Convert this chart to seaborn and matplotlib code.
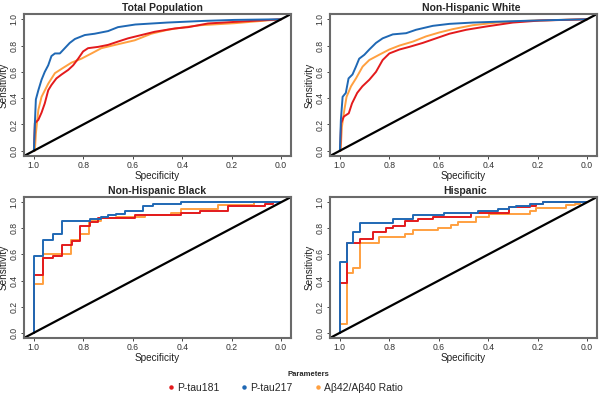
import matplotlib
matplotlib.use("Agg")
import matplotlib.pyplot as plt
import seaborn as sns
import pandas as pd
from matplotlib.lines import Line2D

sns.set_style("white")
plt.rcParams['font.family'] = ['Liberation Sans', 'DejaVu Sans']

series_names = ["P-tau181", "P-tau217", "A\u03b242/A\u03b240 Ratio"]
colors = ["#E31A1C", "#1F68B4", "#FFA040"]
panel_titles = ["Total Population", "Non-Hispanic White", "Non-Hispanic Black", "Hispanic"]

# ---- Total Population ----
tot_red_spec = [1.0, 0.996, 0.982, 0.969, 0.956, 0.942, 0.929, 0.909, 0.888, 0.861, 0.841, 0.821, 0.801, 0.781, 0.740, 0.700, 0.660, 0.619, 0.565, 0.511, 0.430, 0.376, 0.296, 0.188, 0.094, 0.0]
tot_red_sens = [0.0, 0.21, 0.235, 0.29, 0.36, 0.46, 0.50, 0.55, 0.58, 0.615, 0.65, 0.70, 0.755, 0.78, 0.79, 0.805, 0.83, 0.855, 0.88, 0.905, 0.93, 0.94, 0.968, 0.98, 0.99, 1.0]
tot_blue_spec = [1.0, 0.996, 0.992, 0.982, 0.969, 0.956, 0.942, 0.929, 0.915, 0.895, 0.875, 0.855, 0.834, 0.794, 0.754, 0.70, 0.66, 0.59, 0.46, 0.32, 0.19, 0.0]
tot_blue_sens = [0.0, 0.21, 0.39, 0.46, 0.54, 0.60, 0.65, 0.72, 0.74, 0.74, 0.78, 0.82, 0.85, 0.88, 0.89, 0.91, 0.94, 0.96, 0.975, 0.987, 0.995, 1.0]
tot_orange_spec = [1.0, 0.996, 0.992, 0.982, 0.969, 0.942, 0.915, 0.882, 0.848, 0.808, 0.767, 0.727, 0.660, 0.592, 0.525, 0.458, 0.390, 0.323, 0.188, 0.0]
tot_orange_sens = [0.0, 0.0, 0.13, 0.31, 0.41, 0.51, 0.59, 0.63, 0.67, 0.70, 0.74, 0.78, 0.81, 0.84, 0.89, 0.92, 0.94, 0.955, 0.97, 1.0]

# ---- Non-Hispanic White ----
nhw_red_spec = [1.0, 0.999, 0.995, 0.984, 0.964, 0.951, 0.930, 0.909, 0.881, 0.854, 0.827, 0.800, 0.759, 0.719, 0.665, 0.611, 0.557, 0.489, 0.408, 0.300, 0.192, 0.0]
nhw_red_sens = [0.0, 0.0, 0.21, 0.26, 0.285, 0.36, 0.44, 0.49, 0.54, 0.60, 0.69, 0.74, 0.77, 0.79, 0.82, 0.855, 0.89, 0.92, 0.945, 0.975, 0.99, 1.0]
nhw_blue_spec = [1.0, 0.996, 0.989, 0.976, 0.965, 0.949, 0.935, 0.922, 0.901, 0.881, 0.854, 0.827, 0.786, 0.732, 0.692, 0.624, 0.557, 0.462, 0.354, 0.219, 0.0]
nhw_blue_sens = [0.0, 0.235, 0.41, 0.44, 0.55, 0.58, 0.64, 0.70, 0.73, 0.77, 0.82, 0.855, 0.885, 0.894, 0.92, 0.95, 0.965, 0.975, 0.982, 0.99, 1.0]
nhw_orange_spec = [1.0, 0.997, 0.992, 0.982, 0.973, 0.955, 0.935, 0.908, 0.881, 0.841, 0.800, 0.759, 0.705, 0.651, 0.597, 0.543, 0.462, 0.354, 0.219, 0.0]
nhw_orange_sens = [0.0, 0.0, 0.18, 0.31, 0.41, 0.49, 0.55, 0.64, 0.69, 0.73, 0.77, 0.80, 0.83, 0.87, 0.90, 0.925, 0.955, 0.977, 0.99, 1.0]

# ---- Non-Hispanic Black (step curves, jump points) ----
nhb_red_spec = [1.0, 1.0, 0.962, 0.922, 0.886, 0.845, 0.814, 0.774, 0.740, 0.592, 0.404, 0.330, 0.215, 0.067, 0.034, 0.0]
nhb_red_sens = [0.0, 0.44, 0.57, 0.59, 0.67, 0.70, 0.815, 0.85, 0.88, 0.90, 0.92, 0.935, 0.97, 0.985, 1.0, 1.0]
nhb_blue_spec = [1.0, 1.0, 0.962, 0.922, 0.886, 0.774, 0.727, 0.700, 0.666, 0.633, 0.559, 0.518, 0.404, 0.0]
nhb_blue_sens = [0.0, 0.59, 0.71, 0.76, 0.855, 0.87, 0.89, 0.905, 0.91, 0.935, 0.97, 0.985, 1.0, 1.0]
nhb_orange_spec = [1.0, 1.0, 0.962, 0.848, 0.812, 0.778, 0.727, 0.666, 0.552, 0.444, 0.404, 0.256, 0.108, 0.0]
nhb_orange_sens = [0.0, 0.37, 0.60, 0.71, 0.76, 0.855, 0.88, 0.885, 0.90, 0.92, 0.95, 0.975, 1.0, 1.0]

# ---- Hispanic (step curves, jump points) ----
his_red_spec = [1.0, 1.0, 0.973, 0.919, 0.868, 0.814, 0.786, 0.735, 0.685, 0.624, 0.469, 0.314, 0.232, 0.205, 0.178, 0.0]
his_red_sens = [0.0, 0.385, 0.685, 0.715, 0.77, 0.80, 0.815, 0.855, 0.87, 0.885, 0.915, 0.96, 0.97, 0.985, 1.0, 1.0]
his_blue_spec = [1.0, 1.0, 0.973, 0.946, 0.919, 0.786, 0.705, 0.577, 0.442, 0.361, 0.314, 0.286, 0.232, 0.178, 0.0]
his_blue_sens = [0.0, 0.545, 0.685, 0.77, 0.84, 0.87, 0.90, 0.915, 0.93, 0.945, 0.96, 0.97, 0.985, 1.0, 1.0]
his_orange_spec = [1.0, 1.0, 0.973, 0.946, 0.919, 0.841, 0.735, 0.705, 0.604, 0.550, 0.523, 0.449, 0.395, 0.232, 0.205, 0.084, 0.050, 0.030, 0.0]
his_orange_sens = [0.0, 0.07, 0.455, 0.50, 0.685, 0.73, 0.76, 0.785, 0.80, 0.825, 0.85, 0.89, 0.91, 0.93, 0.955, 0.98, 0.99, 1.0, 1.0]

tick_vals = [1.0, 0.8, 0.6, 0.4, 0.2, 0.0]
tick_labels = ["1.0", "0.8", "0.6", "0.4", "0.2", "0.0"]

panels = [
    (panel_titles[0], [(tot_red_spec, tot_red_sens), (tot_blue_spec, tot_blue_sens), (tot_orange_spec, tot_orange_sens)], None, 0.519),
    (panel_titles[1], [(nhw_red_spec, nhw_red_sens), (nhw_blue_spec, nhw_blue_sens), (nhw_orange_spec, nhw_orange_sens)], None, 0.53),
    (panel_titles[2], [(nhb_red_spec, nhb_red_sens), (nhb_blue_spec, nhb_blue_sens), (nhb_orange_spec, nhb_orange_sens)], "steps-post", 0.5),
    (panel_titles[3], [(his_red_spec, his_red_sens), (his_blue_spec, his_blue_sens), (his_orange_spec, his_orange_sens)], "steps-post", 0.505),
]

fig = plt.figure(figsize=(6.0, 3.95), dpi=100)
W, H = 600.0, 395.0
boxes = [(24, 14, 291, 156), (330, 14, 597, 156), (24, 197, 291, 338), (330, 197, 597, 338)]

for (title, curves, ds, tx), (l, t, r, b) in zip(panels, boxes):
    ax = fig.add_axes([l / W, 1 - b / H, (r - l) / W, (b - t) / H])
    order = [2, 0, 1]
    for i in order:
        sp, se = curves[i]
        df = pd.DataFrame({"spec": sp, "sens": se})
        kw = {}
        if ds:
            kw["drawstyle"] = ds
        sns.lineplot(data=df, x="spec", y="sens", ax=ax, color=colors[i], lw=1.4,
                     sort=False, estimator=None, legend=False, **kw)
    ax.axline((1.0, 0.0), (0.0, 1.0), color="black", lw=1.6)
    ax.set_xlim(1.04, -0.04)
    ax.set_ylim(-0.04, 1.04)
    ax.set_xticks(tick_vals)
    ax.set_xticklabels(tick_labels, fontsize=6.2)
    ax.set_yticks(tick_vals)
    ax.set_yticklabels(tick_labels, fontsize=6.2, rotation=90, va="center")
    ax.tick_params(axis="both", direction="out", length=2.5, width=0.7, pad=1.2,
                   colors="#444444", labelcolor="#333333", bottom=True, left=True)
    ax.set_xlabel("Specificity", fontsize=7.2, labelpad=0.3, color="#222222")
    ax.set_ylabel("Sensitivity", fontsize=7.2, labelpad=1, color="#222222")
    ax.set_title(title, fontsize=7.5, fontweight="bold", pad=2.5, x=tx)
    for s in ax.spines.values():
        s.set_color("#6a6a6a")
        s.set_linewidth(1.5)

handles = [Line2D([0], [0], marker="o", color="none", markerfacecolor=c, markeredgecolor=c,
                  markersize=2.2) for c in colors]
fig.legend(handles, series_names, loc="center", bbox_to_anchor=(285 / W, 1 - 388 / H),
           ncol=3, frameon=False, fontsize=7.5, handlelength=0.6, handletextpad=0.3,
           columnspacing=2.1)
fig.text(308 / W, 1 - 375 / H, "Parameters", ha="center", va="center",
         fontsize=5.5, fontweight="bold")

fig.savefig("out.png", dpi=100)
